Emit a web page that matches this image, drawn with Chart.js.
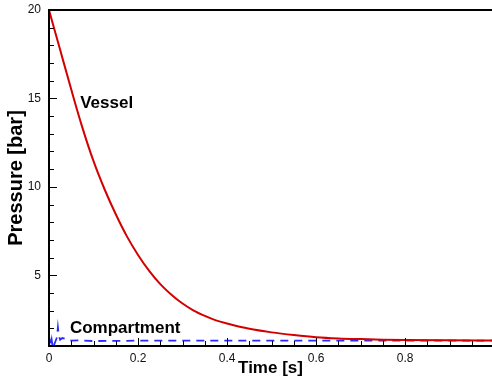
<!DOCTYPE html>
<html>
<head>
<meta charset="utf-8">
<script src="https://cdn.jsdelivr.net/npm/chart.js@4"></script>
<style>
  body { margin: 0; background: #fff; overflow: hidden; }
</style>
</head>
<body>
<canvas id="chart-pressure" width="492" height="380"></canvas>
<script>
// data
const vesselTime = [0, 0.025, 0.05, 0.075, 0.1, 0.125, 0.15, 0.175, 0.2, 0.225, 0.25, 0.275, 0.3, 0.325, 0.35, 0.375, 0.4, 0.45, 0.5, 0.55, 0.6, 0.65, 0.7, 0.75, 0.8, 0.9, 0.995];
const vesselPressure = [20, 17.75, 15.5, 13.35, 11.45, 9.85, 8.45, 7.2, 6.15, 5.25, 4.5, 3.9, 3.4, 3.0, 2.7, 2.45, 2.27, 1.97, 1.77, 1.62, 1.5, 1.43, 1.39, 1.36, 1.34, 1.32, 1.31];

const compTime = [0, 0.002, 0.004, 0.006, 0.008, 0.01, 0.012, 0.015, 0.018, 0.02, 0.022, 0.025, 0.03, 0.04, 0.05, 0.07, 0.1, 0.2, 0.4, 0.6, 0.8, 0.995];
const compPressure = [1.0, 1.3, 1.05, 1.35, 1.0, 1.25, 1.1, 1.3, 1.5, 2.05, 1.6, 1.35, 1.45, 1.38, 1.3, 1.32, 1.28, 1.3, 1.3, 1.3, 1.3, 1.3];

const yMajor = [5, 10, 15, 20];
const xMajor = [0, 0.2, 0.4, 0.6, 0.8];

const toPoints = (xs, ys) => xs.map((x, i) => ({ x: x, y: ys[i] }));
const isMajor = (v, list) => list.some(m => Math.abs(m - v) < 1e-6);

const labelsPlugin = {
  id: 'frameAndLabels',
  afterDraw(chart) {
    const ctx = chart.ctx;
    const xs = chart.scales.x;
    const ys = chart.scales.y;
    const area = chart.chartArea;
    ctx.save();
    ctx.strokeStyle = '#000';
    ctx.lineWidth = 1;
    // inward ticks
    xs.ticks.forEach(t => {
      const px = Math.round(xs.getPixelForValue(t.value)) + 0.5;
      const len = isMajor(t.value, xMajor) ? 8 : 5;
      ctx.beginPath();
      ctx.moveTo(px, area.bottom);
      ctx.lineTo(px, area.bottom - len);
      ctx.stroke();
    });
    ys.ticks.forEach(t => {
      const py = Math.round(ys.getPixelForValue(t.value)) + 0.5;
      const len = isMajor(t.value, yMajor) ? 8 : 5;
      ctx.beginPath();
      ctx.moveTo(area.left, py);
      ctx.lineTo(area.left + len, py);
      ctx.stroke();
    });
    // frame
    ctx.lineWidth = 2;
    ctx.beginPath();
    ctx.moveTo(area.right, area.top);
    ctx.lineTo(area.left, area.top);
    ctx.lineTo(area.left, area.bottom);
    ctx.lineTo(area.right, area.bottom);
    ctx.stroke();
    // curve names
    ctx.fillStyle = '#000';
    ctx.font = 'bold 17px "Liberation Sans", Arial, sans-serif';
    ctx.textBaseline = 'middle';
    ctx.textAlign = 'left';
    ctx.fillText('Vessel', xs.getPixelForValue(0.07), ys.getPixelForValue(14.74));
    ctx.fillText('Compartment', xs.getPixelForValue(0.047), ys.getPixelForValue(1.99));
    ctx.restore();
  }
};

new Chart(document.getElementById('chart-pressure'), {
  type: 'line',
  data: {
    datasets: [{
      label: 'Vessel',
      data: toPoints(vesselTime, vesselPressure),
      borderColor: '#d40000',
      borderWidth: 2,
      pointRadius: 0,
      cubicInterpolationMode: 'monotone'
    }, {
      label: 'Compartment',
      data: toPoints(compTime, compPressure),
      borderColor: '#2a2aff',
      borderWidth: 1.8,
      borderDash: [8, 6],
      pointRadius: 0,
      tension: 0
    }]
  },
  options: {
    responsive: false,
    animation: false,
    layout: { padding: { top: 10, right: 0, left: 0, bottom: 0 } },
    plugins: { legend: { display: false }, tooltip: { enabled: false } },
    scales: {
      x: {
        type: 'linear',
        min: 0,
        max: 0.995,
        grid: { display: false, drawTicks: false },
        border: { display: false },
        afterBuildTicks: axis => {
          const t = [];
          for (let i = 0; i <= 19; i++) t.push({ value: i / 20 });
          axis.ticks = t;
        },
        afterFit: axis => {
          axis.height = 34;
          axis.paddingLeft = 0;
          axis.paddingRight = 0;
        },
        ticks: {
          color: '#111',
          padding: 5,
          maxRotation: 0,
          autoSkip: false,
          font: { family: '"Liberation Sans", Arial, sans-serif', size: 12 },
          callback: v => isMajor(v, xMajor) ? String(Math.round(v * 10) / 10) : ''
        },
        title: {
          display: true,
          text: 'Time [s]',
          color: '#000',
          padding: { top: 0, bottom: 1 },
          font: { family: '"Liberation Sans", Arial, sans-serif', size: 17, weight: 'bold' }
        }
      },
      y: {
        type: 'linear',
        min: 1,
        max: 20,
        grid: { display: false, drawTicks: false },
        border: { display: false },
        afterBuildTicks: axis => {
          const t = [];
          for (let i = 1; i <= 20; i++) t.push({ value: i });
          axis.ticks = t;
        },
        afterFit: axis => {
          axis.width = 49;
          axis.paddingTop = 0;
          axis.paddingBottom = 0;
        },
        ticks: {
          color: '#111',
          padding: 8,
          autoSkip: false,
          font: { family: '"Liberation Sans", Arial, sans-serif', size: 12 },
          callback: v => isMajor(v, yMajor) ? String(v) : ''
        },
        title: {
          display: true,
          text: 'Pressure [bar]',
          color: '#000',
          padding: { top: 4, bottom: 0 },
          font: { family: '"Liberation Sans", Arial, sans-serif', size: 20, weight: 'bold' }
        }
      }
    }
  },
  plugins: [labelsPlugin]
});
</script>
</body>
</html>
